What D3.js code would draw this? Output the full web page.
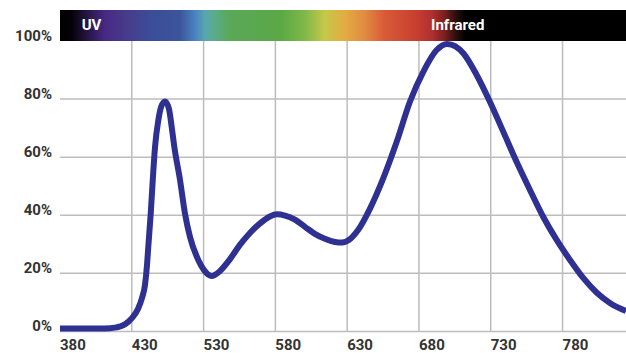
<!DOCTYPE html>
<html><head><meta charset="utf-8">
<script src="https://cdn.jsdelivr.net/npm/d3@7"></script>
<style>html,body{margin:0;padding:0;background:#fff;}svg{display:block;}</style>
</head><body>
<script>
// Positional wavelength (one gridline every 50 units) and relative intensity (%)
const wavelengths = [380,411.3,418.3,425.3,430.1,434.3,437.1,439.2,440.6,441.5,443.2,444.6,446.2,448.5,450.4,453.1,455.8,457.9,459.6,463.6,467.0,470.5,476.3,480.3,485.6,491.4,498.4,505.3,512.3,519.3,526.2,531.1,536.7,543.6,550.6,557.5,564.5,571.5,576.4,582.0,587.6,595.9,605.1,614.5,623.7,633.0,642.3,649.7,660.9,670.2,679.4,688.7,698.0,707.3,716.6,725.9,735.2,744.4,753.7,763.0,774.2];
const intensity   = [1.0,1.0,1.3,2.5,4.6,7.7,11.5,16.0,22.9,29.2,40.7,52.1,63.6,72.8,77.3,79.2,76.8,70.0,63.6,52.1,40.7,32.6,24.6,21.1,19.1,20.8,24.9,29.8,33.9,37.2,39.6,40.3,39.9,38.5,36.0,33.6,31.9,30.8,30.6,31.8,34.9,42.3,52.7,65.3,79.1,89.4,96.9,99.0,95.8,88.3,79.1,68.8,58.4,48.7,39.4,31.5,24.6,18.4,13.4,9.8,7.0];
const xTickLabels = ["380","430","530","580","630","680","730","780"];
const yTicks = [0,20,40,60,80,100];
const spectrumStops = [
  [0,"#000000"],[0.021,"#050208"],[0.053,"#2c1850"],[0.08,"#472a85"],[0.115,"#483a8a"],
  [0.159,"#3b4d98"],[0.212,"#3b559c"],[0.239,"#4a84c0"],[0.256,"#5aa6b0"],[0.274,"#5aac88"],
  [0.30,"#5aa858"],[0.389,"#5aa846"],[0.433,"#80b848"],[0.468,"#c6c848"],[0.504,"#e3ab42"],
  [0.539,"#e08a40"],[0.574,"#d85a38"],[0.627,"#c84030"],[0.657,"#b03030"],[0.68,"#7a1e1e"],
  [0.698,"#301010"],[0.716,"#000000"],[1,"#000000"]
];
const bandLabels = [{text:"UV", pos:402},{text:"Infrared", pos:657}];

const W = 626, H = 353;
const mLeft = 60, mRight = 626, mTop = 41, mBottom = 331.4;
const svg = d3.select("body").append("svg").attr("width", W).attr("height", H);

const x = d3.scaleLinear().domain([380, 774.2]).range([mLeft, mRight]);
const y = d3.scaleLinear().domain([0, 100]).range([mBottom, mTop]);

const font = "Roboto, 'Noto Sans', sans-serif";

// spectrum bar
const defs = svg.append("defs");
const grad = defs.append("linearGradient").attr("id","spec").attr("x1","0%").attr("x2","100%").attr("y1","0%").attr("y2","0%");
grad.selectAll("stop").data(spectrumStops).join("stop")
  .attr("offset", d => d[0]).attr("stop-color", d => d[1]);
svg.append("rect").attr("x", mLeft).attr("y", 10).attr("width", mRight - mLeft).attr("height", mTop - 10)
  .attr("fill", "url(#spec)");
svg.selectAll("text.band").data(bandLabels).join("text").attr("class","band")
  .attr("x", d => x(d.pos)).attr("y", 30).attr("text-anchor","middle")
  .attr("font-family", font).attr("font-weight", 700).attr("font-size", 15)
  .attr("fill", "#fff").text(d => d.text);

// grid
const xTickPos = xTickLabels.map((l, i) => 380 + 50 * i);
svg.append("g").selectAll("line").data(xTickPos.slice(1)).join("line")
  .attr("x1", d => x(d)).attr("x2", d => x(d)).attr("y1", mTop).attr("y2", mBottom)
  .attr("stroke", "#bdbdbd").attr("stroke-width", 1.5);
svg.append("g").selectAll("line").data(yTicks.filter(v => v > 0 && v < 100)).join("line")
  .attr("x1", mLeft).attr("x2", mRight).attr("y1", d => y(d)).attr("y2", d => y(d))
  .attr("stroke", "#bdbdbd").attr("stroke-width", 1.5);
svg.append("line").attr("x1", mLeft).attr("x2", mRight).attr("y1", mBottom).attr("y2", mBottom)
  .attr("stroke", "#bdbdbd").attr("stroke-width", 1.5);

// y labels
svg.append("g").selectAll("text").data(yTicks).join("text")
  .attr("x", 52).attr("y", d => y(d)).attr("text-anchor","end")
  .attr("font-family", font).attr("font-weight", 700).attr("font-size", 15)
  .attr("fill", "#333").text(d => d + "%");

// x labels
svg.append("g").selectAll("text").data(xTickLabels).join("text")
  .attr("x", (d, i) => x(xTickPos[i])).attr("y", 349.5)
  .attr("font-family", font).attr("font-weight", 700).attr("font-size", 15)
  .attr("fill", "#333").text(d => d);

// curve
const pts = wavelengths.map((w, i) => [w, intensity[i]]);
const line = d3.line().x(d => x(d[0])).y(d => y(d[1])).curve(d3.curveMonotoneX);
svg.append("path").datum(pts).attr("d", line).attr("fill","none")
  .attr("stroke", "#2e3192").attr("stroke-width", 6).attr("stroke-linejoin","round");
</script>
</body></html>
